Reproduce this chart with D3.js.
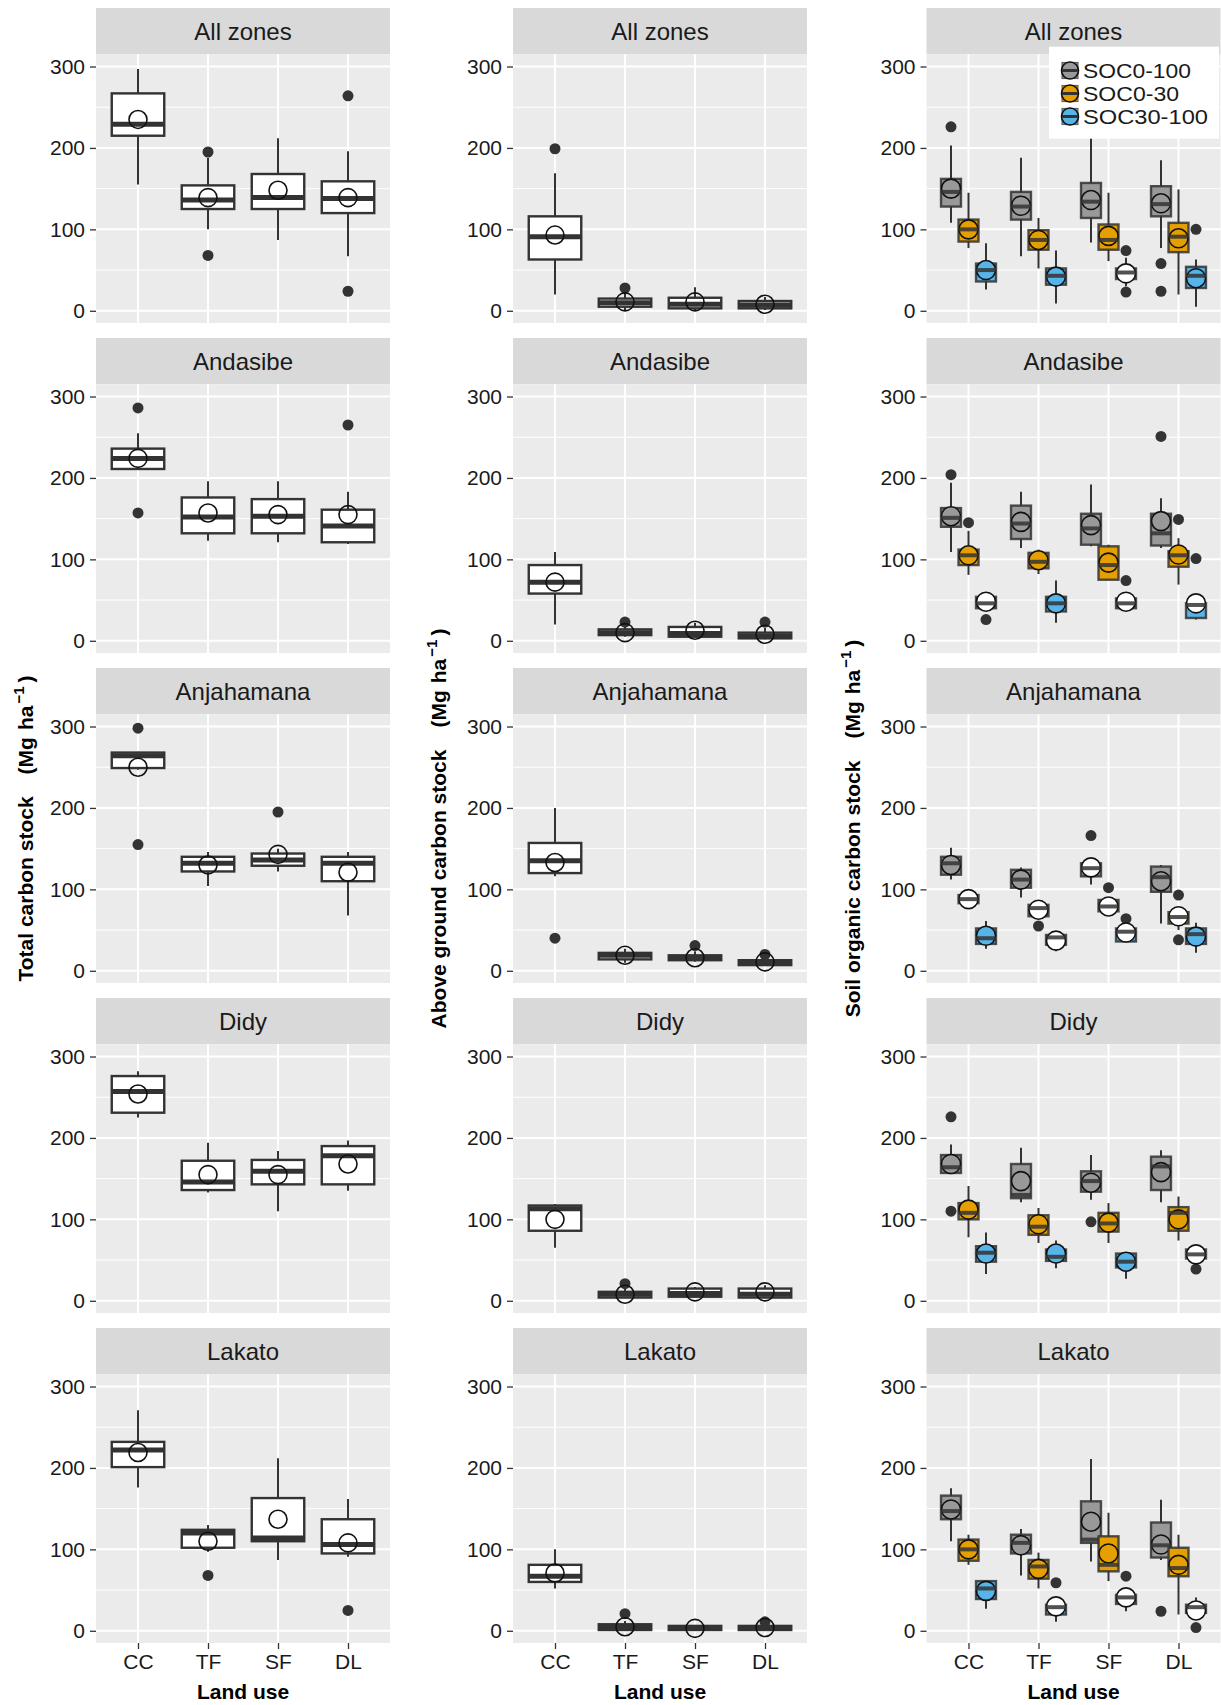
<!DOCTYPE html>
<html>
<head>
<meta charset="utf-8">
<script src="https://cdn.jsdelivr.net/npm/d3@7"></script>
<style>
  body { margin: 0; background: #ffffff; }
  svg text { font-family: "Liberation Sans", Arial, Helvetica, sans-serif; }
</style>
</head>
<body>
<svg id="chart" width="1221" height="1705"></svg>
<script>
// ---- categories and ticks ----
const zones = ["All zones", "Andasibe", "Anjahamana", "Didy", "Lakato"];
const landUses = ["CC", "TF", "SF", "DL"];
const socLayers = ["SOC0-100", "SOC0-30", "SOC30-100"];
const yTicks = [0, 100, 200, 300];
const yMinorTicks = [50, 150, 250];

// Box statistics per zone and land use:
// [lower whisker, Q1, median, Q3, upper whisker, mean]

// Total carbon stock
const totalStock = [
  [[155, 215, 229, 267, 297, 235], [100, 125, 136, 154, 188, 139], [87, 125, 139, 168, 212, 148], [67, 120, 138, 159, 196, 139]],
  [[211, 211, 224, 236, 255, 224], [123, 132, 152, 176, 196, 157], [121, 132, 153, 174, 196, 155], [119, 121, 141, 161, 183, 155]],
  [[247, 249, 264, 268, 269, 250], [104, 122, 132, 140, 146, 130], [122, 129, 136, 144, 150, 143], [68, 110, 132, 140, 146, 121]],
  [[225, 231, 257, 276, 282, 254], [133, 136, 146, 172, 194, 155], [110, 143, 159, 173, 184, 155], [135, 143, 178, 190, 197, 168]],
  [[176, 201, 222, 232, 271, 219], [97, 102, 120, 124, 130, 110], [87, 110, 114, 163, 212, 137], [91, 95, 106, 137, 162, 108]]
];
const totalOutliers = [
  [[], [195, 68], [], [264, 24]],
  [[286, 157], [], [], [265]],
  [[298, 155], [], [195], []],
  [[], [], [], []],
  [[], [68], [], [25]]
];

// Above ground carbon stock
const agbStock = [
  [[20, 63, 91, 116, 169, 93], [1, 5, 10, 15, 22, 11], [1, 3, 8, 16, 29, 11], [1, 3, 7, 12, 17, 8]],
  [[20, 58, 72, 93, 109, 72], [5, 7, 10, 14, 19, 10], [4, 5, 9, 17, 22, 13], [2, 3, 6, 10, 16, 8]],
  [[116, 120, 135, 157, 200, 133], [10, 14, 19, 22, 27, 19], [11, 13, 15, 19, 24, 16], [6, 7, 10, 13, 17, 11]],
  [[65, 86, 113, 117, 119, 100], [3, 4, 8, 11, 17, 8], [4, 5, 9, 15, 17, 11], [3, 4, 8, 15, 19, 11]],
  [[52, 60, 67, 81, 100, 71], [0, 1, 4, 8, 12, 5], [0, 1, 3, 6, 7, 3], [0, 1, 3, 6, 9, 4]]
];
const agbOutliers = [
  [[199], [28], [], []],
  [[], [23], [], [23]],
  [[40], [], [31], [20]],
  [[], [21], [], []],
  [[], [21], [], [11]]
];

// Soil organic carbon stock, 0-100 cm
const soc0to100 = [
  [[108, 128, 146, 162, 203, 150], [67, 112, 128, 146, 188, 129], [84, 114, 134, 157, 230, 136], [77, 116, 131, 153, 185, 132]],
  [[109, 140, 151, 163, 194, 153], [114, 125, 144, 166, 183, 146], [116, 118, 138, 156, 192, 142], [114, 117, 132, 156, 175, 147]],
  [[112, 118, 132, 140, 151, 130], [90, 102, 112, 124, 127, 112], [106, 116, 126, 132, 136, 127], [58, 97, 115, 128, 130, 110]],
  [[157, 157, 164, 179, 192, 168], [121, 126, 130, 168, 188, 147], [124, 134, 147, 159, 179, 145], [121, 136, 165, 177, 185, 158]],
  [[110, 137, 147, 166, 175, 149], [68, 95, 108, 118, 125, 105], [85, 108, 112, 159, 211, 134], [87, 90, 105, 133, 161, 106]]
];
const soc0to100Outliers = [
  [[226], [], [], [58, 24]],
  [[204], [], [], [251]],
  [[], [], [166], []],
  [[226, 110], [], [97], []],
  [[], [], [], [24]]
];
const soc0to100OpenMean = [[0, 0, 0, 0], [0, 0, 0, 0], [0, 0, 1, 0], [0, 0, 0, 0], [0, 0, 0, 0]];

// Soil organic carbon stock, 0-30 cm
const soc0to30 = [
  [[77, 85, 100, 112, 145, 100], [52, 75, 87, 99, 114, 87], [61, 75, 87, 106, 145, 92], [20, 72, 91, 108, 149, 89]],
  [[81, 93, 105, 112, 135, 105], [82, 89, 97, 108, 112, 99], [75, 75, 93, 116, 118, 96], [69, 91, 105, 110, 126, 106]],
  [[83, 83, 88, 93, 93, 88], [67, 67, 77, 81, 81, 75], [73, 73, 79, 87, 87, 79], [50, 58, 66, 72, 75, 67]],
  [[78, 100, 108, 120, 141, 112], [71, 81, 91, 105, 114, 94], [71, 85, 95, 108, 120, 96], [74, 86, 108, 115, 128, 100]],
  [[81, 86, 100, 112, 118, 100], [52, 64, 79, 87, 96, 76], [61, 73, 81, 116, 145, 95], [20, 67, 77, 102, 118, 81]]
];
const soc0to30Outliers = [
  [[], [], [], []],
  [[145], [], [], [149]],
  [[], [55], [102], [93, 38]],
  [[], [], [], []],
  [[], [], [], []]
];
const soc0to30OpenMean = [[0, 0, 0, 0], [0, 0, 0, 0], [1, 1, 1, 1], [0, 0, 0, 0], [0, 0, 0, 0]];

// Soil organic carbon stock, 30-100 cm
const soc30to100 = [
  [[26, 36, 50, 58, 83, 50], [9, 32, 43, 52, 74, 42], [30, 39, 47, 52, 65, 46], [5, 28, 43, 54, 63, 40]],
  [[40, 40, 46, 54, 54, 48], [22, 36, 46, 54, 74, 46], [40, 40, 46, 52, 52, 48], [26, 28, 44, 46, 46, 46]],
  [[27, 33, 40, 52, 61, 43], [24, 32, 41, 44, 46, 37], [36, 36, 48, 52, 52, 47], [22, 33, 45, 52, 59, 42]],
  [[33, 48, 59, 67, 84, 58], [40, 49, 54, 63, 74, 58], [27, 41, 48, 58, 58, 48], [52, 52, 57, 63, 63, 57]],
  [[27, 39, 52, 61, 61, 49], [11, 20, 29, 32, 32, 30], [24, 33, 41, 44, 44, 41], [22, 22, 29, 32, 41, 25]]
];
const soc30to100Outliers = [
  [[], [], [74, 23], [100]],
  [[26], [], [74], [101]],
  [[], [], [64], []],
  [[], [], [], [39]],
  [[], [59], [67], [4]]
];
const soc30to100OpenMean = [[0, 0, 1, 0], [1, 0, 1, 1], [0, 1, 1, 0], [0, 0, 0, 1], [0, 1, 1, 1]];

const socColors = ["#999999", "#E69F00", "#56B4E9"];

// ---- layout ----
const svg = d3.select("#chart");
const colX = [96, 513, 926.5];
const panelW = 294;
const rowStep = 330;
const stripTop = 8, stripH = 46.3;
const panelTop = 54.3, panelH = 268.7;
const dark = "#333333";
const ink = "#1a1a1a";
const tickFont = 21;

const yDomain = [-15, 315];

function boxGroup(g, x, y, stats, outliers, opt) {
  const [lo, q1, med, q3, hi, mean] = stats;
  const cx = opt.cx, w = opt.width;
  // whisker
  g.append("line")
    .attr("x1", cx).attr("x2", cx)
    .attr("y1", y(lo)).attr("y2", y(hi))
    .attr("stroke", dark).attr("stroke-width", 2);
  // box
  g.append("rect")
    .attr("x", cx - w / 2).attr("width", w)
    .attr("y", y(q3)).attr("height", Math.max(0.5, y(q1) - y(q3)))
    .attr("fill", opt.fill)
    .attr("stroke", dark).attr("stroke-width", opt.boxStroke)
    .attr("stroke-opacity", opt.strokeOpacity);
  // outliers
  outliers.forEach(v => {
    g.append("circle")
      .attr("cx", cx).attr("cy", y(v)).attr("r", 5.5)
      .attr("fill", dark);
  });
  if (opt.meanFirst) {
    g.append("circle")
      .attr("cx", cx).attr("cy", y(mean)).attr("r", opt.meanR)
      .attr("fill", opt.meanFill).attr("stroke", "#111").attr("stroke-width", 1.6);
  }
  // median
  g.append("line")
    .attr("x1", cx - w / 2).attr("x2", cx + w / 2)
    .attr("y1", y(med)).attr("y2", y(med))
    .attr("stroke", dark).attr("stroke-width", opt.medianWidth)
    .attr("stroke-opacity", opt.strokeOpacity);
  if (!opt.meanFirst) {
    g.append("circle")
      .attr("cx", cx).attr("cy", y(mean)).attr("r", opt.meanR)
      .attr("fill", "none").attr("stroke", "#111").attr("stroke-width", 1.6);
  }
}

function drawPanel(col, row, draw) {
  const x0 = colX[col];
  const top = panelTop + row * rowStep;
  const g = svg.append("g");

  // strip
  g.append("rect")
    .attr("x", x0).attr("y", stripTop + row * rowStep)
    .attr("width", panelW).attr("height", stripH)
    .attr("fill", "#d9d9d9");
  g.append("text")
    .attr("x", x0 + panelW / 2).attr("y", stripTop + row * rowStep + stripH / 2 + 8.5)
    .attr("text-anchor", "middle")
    .attr("font-size", 24).attr("fill", ink)
    .text(zones[row]);

  // panel background
  g.append("rect")
    .attr("x", x0).attr("y", top)
    .attr("width", panelW).attr("height", panelH)
    .attr("fill", "#ebebeb");

  const y = d3.scaleLinear().domain(yDomain).range([top + panelH, top]);
  const x = d3.scalePoint().domain(landUses).range([x0, x0 + panelW]).padding(0.6);

  // grid
  g.selectAll(null).data(yMinorTicks).join("line")
    .attr("x1", x0).attr("x2", x0 + panelW)
    .attr("y1", d => y(d)).attr("y2", d => y(d))
    .attr("stroke", "#ffffff").attr("stroke-width", 1);
  g.selectAll(null).data(yTicks).join("line")
    .attr("x1", x0).attr("x2", x0 + panelW)
    .attr("y1", d => y(d)).attr("y2", d => y(d))
    .attr("stroke", "#ffffff").attr("stroke-width", 2);
  g.selectAll(null).data(landUses).join("line")
    .attr("x1", d => x(d)).attr("x2", d => x(d))
    .attr("y1", top).attr("y2", top + panelH)
    .attr("stroke", "#ffffff").attr("stroke-width", 2);

  // y axis
  const ya = g.append("g")
    .attr("transform", `translate(${x0},0)`)
    .call(d3.axisLeft(y).tickValues(yTicks).tickSize(6).tickPadding(5));
  ya.select(".domain").remove();
  ya.selectAll(".tick line").attr("stroke", dark).attr("stroke-width", 1.3);
  ya.selectAll(".tick text").attr("font-size", tickFont).attr("fill", ink)
    .attr("font-family", "Liberation Sans, Arial, sans-serif");

  // x axis on the bottom row
  if (row === zones.length - 1) {
    const xa = g.append("g")
      .attr("transform", `translate(0,${top + panelH})`)
      .call(d3.axisBottom(x).tickSize(6).tickPadding(5));
    xa.select(".domain").remove();
    xa.selectAll(".tick line").attr("stroke", dark).attr("stroke-width", 1.3);
    xa.selectAll(".tick text").attr("font-size", tickFont).attr("fill", ink)
      .attr("font-family", "Liberation Sans, Arial, sans-serif");
    g.append("text")
      .attr("x", x0 + panelW / 2).attr("y", top + panelH + 56)
      .attr("text-anchor", "middle")
      .attr("font-size", 21).attr("font-weight", "bold").attr("fill", "#000")
      .text("Land use");
  }

  draw(g, x, y);
}

// total and above ground columns
function singleColumn(col, stats, outs) {
  zones.forEach((z, r) => {
    drawPanel(col, r, (g, x, y) => {
      landUses.forEach((lu, i) => {
        boxGroup(g, x, y, stats[r][i], outs[r][i], {
          cx: x(lu), width: x.step() * 0.75, fill: "#ffffff",
          boxStroke: 2.4, strokeOpacity: 1, medianWidth: 5,
          meanR: 9, meanFirst: false
        });
      });
    });
  });
}
singleColumn(0, totalStock, totalOutliers);
singleColumn(1, agbStock, agbOutliers);

// soil organic carbon column, three layers dodged
const socStats = [soc0to100, soc0to30, soc30to100];
const socOuts = [soc0to100Outliers, soc0to30Outliers, soc30to100Outliers];
const socOpen = [soc0to100OpenMean, soc0to30OpenMean, soc30to100OpenMean];
zones.forEach((z, r) => {
  drawPanel(2, r, (g, x, y) => {
    landUses.forEach((lu, i) => {
      socLayers.forEach((layer, k) => {
        const off = (k - 1) * x.step() * 0.25;
        boxGroup(g, x, y, socStats[k][r][i], socOuts[k][r][i], {
          cx: x(lu) + off, width: x.step() * 0.285, fill: socColors[k],
          boxStroke: 2.4, strokeOpacity: 0.85, medianWidth: 4,
          meanR: 9.5, meanFirst: true,
          meanFill: socOpen[k][r][i] ? "#ffffff" : socColors[k]
        });
      });
    });
  });
});

// legend for the soil layers
const lg = svg.append("g");
lg.append("rect")
  .attr("x", 1049).attr("y", 46.7).attr("width", 170).attr("height", 92)
  .attr("fill", "#ffffff");
socLayers.forEach((layer, k) => {
  const cy = 70.5 + k * 23;
  lg.append("rect")
    .attr("x", 1062).attr("y", cy - 8).attr("width", 16).attr("height", 16)
    .attr("fill", socColors[k]).attr("stroke", dark).attr("stroke-width", 1.2).attr("stroke-opacity", 0.7);
  lg.append("circle")
    .attr("cx", 1070).attr("cy", cy).attr("r", 8.5)
    .attr("fill", socColors[k]).attr("stroke", "#111").attr("stroke-width", 1.6);
  lg.append("line")
    .attr("x1", 1062).attr("x2", 1078).attr("y1", cy).attr("y2", cy)
    .attr("stroke", dark).attr("stroke-width", 3);
  lg.append("text")
    .attr("x", 1083).attr("y", cy + 7.5)
    .attr("font-size", 20).attr("fill", ink)
    .attr("textLength", [108, 96, 125][k]).attr("lengthAdjust", "spacingAndGlyphs")
    .text(layer);
});

// rotated y axis titles
const yTitles = [
  ["Total carbon stock", 33],
  ["Above ground carbon stock", 446],
  ["Soil organic carbon stock", 860]
];
const midY = (stripTop + (panelTop + (zones.length - 1) * rowStep + panelH)) / 2 + 3;
yTitles.forEach(([label, bx]) => {
  const t = svg.append("text")
    .attr("transform", `translate(${bx},${midY}) rotate(-90)`)
    .attr("text-anchor", "middle")
    .attr("font-size", 21).attr("font-weight", "bold").attr("fill", "#000");
  t.append("tspan").text(label);
  t.append("tspan").attr("dx", 22).text("(Mg");
  t.append("tspan").attr("dx", 7).text("ha");
  t.append("tspan").attr("dy", -9).attr("dx", 2).attr("font-size", 15).text("\u22121");
  t.append("tspan").attr("dy", 9).attr("dx", 4).text(")");
});
</script>
</body>
</html>
